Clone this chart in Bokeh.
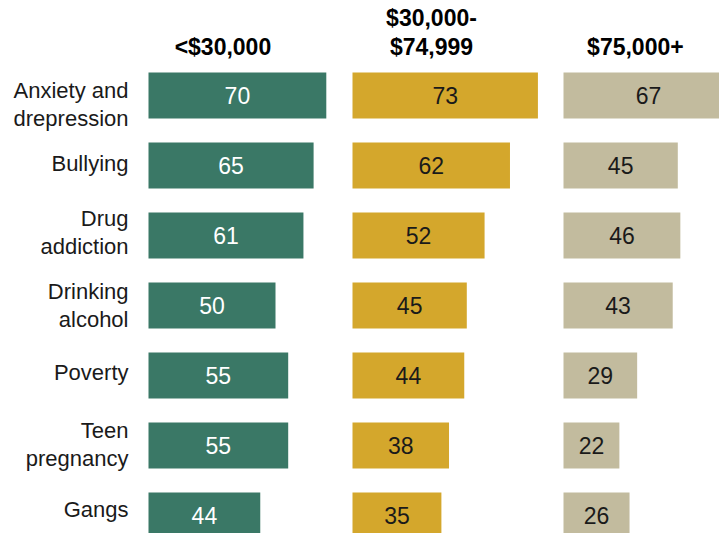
from bokeh.plotting import figure
from bokeh.models import Range1d, ColumnDataSource
from bokeh.layouts import row
from bokeh.embed import file_html
from bokeh.resources import INLINE
from bokeh.core.properties import value

categories = ["Anxiety and\ndrepression", "Bullying", "Drug\naddiction", "Drinking\nalcohol",
              "Poverty", "Teen\npregnancy", "Gangs"]
headers = ["<$30,000", "$30,000-\n$74,999", "$75,000+"]
low_income = [70, 65, 61, 50, 55, 55, 44]
mid_income = [73, 62, 52, 45, 44, 38, 35]
high_income = [67, 45, 46, 43, 29, 22, 26]

series = [low_income, mid_income, high_income]
colors = ["#3a7866", "#d4a72c", "#c2bb9e"]
text_colors = ["white", "#1a1a1a", "#1a1a1a"]
header_x = [29.3, 31.1, 28.3]
label_nudge_px = [9, -2, -3, 0, -3, -1, -6]   # small vertical nudges of row labels

FONT = "Liberation Sans"
K = 2.54           # pixels per percentage point
H = 533
widths = [340, 215, 164]
zero_px = [148, 12, 8]
row_px = 70.0
first_row_px = 95.0

ystart = (H - first_row_px) / row_px
yend = -first_row_px / row_px

figs = []
for i in range(3):
    w = widths[i]
    p = figure(width=w, height=H, output_backend="svg", toolbar_location=None,
               x_range=Range1d(-zero_px[i] / K, (w - zero_px[i]) / K),
               y_range=Range1d(ystart, yend),
               min_border=0, min_border_left=0, min_border_right=0,
               min_border_top=0, min_border_bottom=0,
               x_axis_location=None, y_axis_location=None)
    p.outline_line_color = None
    p.grid.visible = False
    p.background_fill_color = "white"
    p.border_fill_color = "white"
    vals = series[i]
    src = ColumnDataSource(dict(y=list(range(len(vals))), v=vals,
                                half=[v / 2 for v in vals],
                                lab=[str(v) for v in vals], cat=categories,
                                nudge=label_nudge_px))
    p.hbar(y="y", left=0, right="v", height=46 / row_px, source=src,
           fill_color=colors[i], line_color=None)
    p.text(x="half", y="y", text="lab", source=src, text_align="center",
           text_baseline="middle", text_color=text_colors[i],
           text_font=value(FONT), text_font_size="23px")
    if i == 0:
        p.text(x=0, y="y", text="cat", source=src, text_align="right",
               text_baseline="middle", x_offset=-20, y_offset="nudge",
               text_color="#1a1a1a",
               text_font=value(FONT), text_font_size="22px", text_line_height=1.15)
    p.text(x=[header_x[i]], y=[-0.51], text=[headers[i]], text_align="center",
           text_baseline="bottom", text_color="black", text_font=value(FONT),
           text_font_style="bold", text_font_size="23px", text_line_height=1.1)
    figs.append(p)

layout = row(*figs, spacing=0)
open("out.html", "w").write(file_html(layout, INLINE))
